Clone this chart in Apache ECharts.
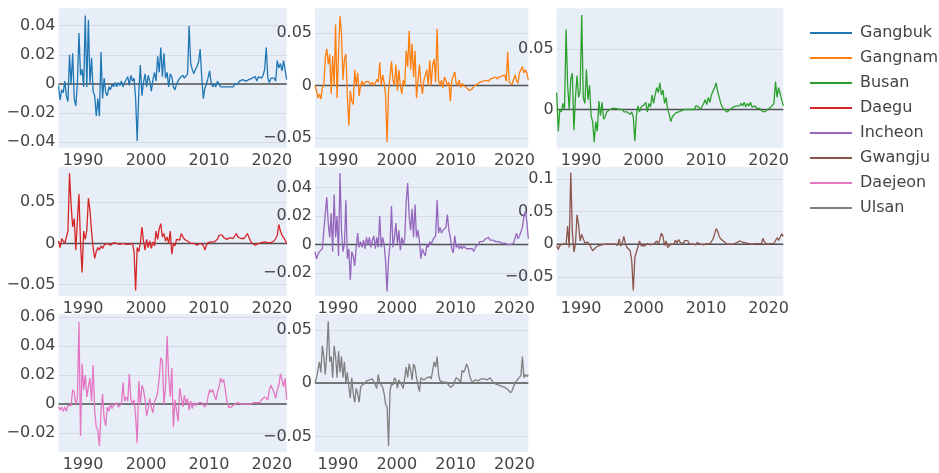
<!DOCTYPE html>
<html><head><meta charset="utf-8">
<script src="https://cdn.jsdelivr.net/npm/echarts@6/dist/echarts.min.js"></script>
<style>html,body{margin:0;padding:0;background:#fff}#c{width:939px;height:473px}</style>
</head><body><div id="c"></div>
<script>
// Quarterly time index (decimal years)
const START_YEAR = 1986.1;
const STEP_YEARS = 0.25;
const X_MIN = 1986.1, X_MAX = 2022.35;

const regions = ['Gangbuk','Gangnam','Busan','Daegu','Incheon','Gwangju','Daejeon','Ulsan'];
const xTickLabels = [1990, 2000, 2010, 2020];

const gangbuk = [
-0.001,-0.011,-0.004,-0.006,0.002,-0.008,-0.012,0.020,0.000,0.021,
-0.010,-0.015,0.000,0.035,0.006,0.010,-0.002,0.047,-0.002,0.044,
0.000,0.018,-0.005,-0.008,-0.022,-0.010,-0.022,0.022,-0.010,0.004,
-0.006,-0.008,-0.002,-0.004,0.000,-0.002,0.001,-0.002,0.001,-0.001,
0.002,-0.002,0.001,0.002,0.005,-0.001,0.006,0.002,0.004,-0.010,
-0.039,-0.006,0.013,-0.008,0.001,0.007,-0.002,0.006,0.002,-0.005,
0.003,0.008,0.002,0.019,0.008,0.025,0.005,0.021,0.004,0.008,
-0.002,0.007,0.005,-0.002,-0.004,0.000,0.002,0.004,0.003,0.006,
0.004,0.005,0.007,0.040,0.014,0.010,0.007,0.010,0.012,0.015,
0.024,0.005,-0.010,-0.003,0.000,0.004,0.009,0.001,-0.002,0.000,
-0.002,0.002,0.000,-0.002,-0.001,-0.002,-0.003,-0.002,-0.003,-0.002,
-0.001,-0.002,0.000,0.001,0.000,0.002,0.001,0.003,0.004,0.002,
0.001,0.003,0.002,0.004,0.003,0.005,0.002,0.005,0.006,0.004,
0.006,0.010,0.025,0.004,0.001,0.004,0.003,0.004,0.002,0.016,
0.011,0.014,0.009,0.016,0.017,0.003];

const gangnam = [
0.000,-0.005,-0.012,-0.008,-0.013,-0.002,0.000,0.026,0.035,0.020,
0.030,-0.008,0.028,0.000,0.058,-0.012,0.030,0.066,0.050,0.005,
0.025,0.030,-0.010,-0.038,-0.005,-0.015,-0.018,0.015,0.000,0.012,
-0.010,0.000,0.004,0.000,0.003,0.002,0.004,0.003,0.001,0.003,
0.000,0.002,0.006,0.003,0.022,0.000,0.010,0.003,-0.010,-0.054,
-0.005,0.008,0.023,0.005,0.000,0.020,-0.005,0.015,0.000,-0.008,
0.005,0.000,0.033,0.018,0.052,0.015,0.040,0.008,0.033,-0.012,
-0.012,0.020,0.002,-0.008,0.005,0.004,0.015,0.000,0.024,0.000,
0.020,0.025,0.003,0.054,0.005,0.000,0.005,-0.002,0.008,0.005,
0.000,0.003,-0.015,0.005,0.004,0.013,0.002,0.000,0.005,-0.002,
0.002,0.000,-0.001,-0.002,-0.003,-0.005,-0.004,-0.003,-0.001,0.000,
0.001,0.002,0.003,0.002,0.004,0.003,0.005,0.006,0.004,0.006,
0.005,0.007,0.006,0.008,0.006,0.008,0.007,0.009,0.008,0.010,
0.004,0.032,0.003,0.002,0.001,0.002,0.010,0.005,0.002,0.012,
0.013,0.018,0.012,0.015,0.012,0.005];

const busan = [
0.014,-0.018,0.000,-0.002,0.005,0.000,0.066,0.020,0.000,0.025,
0.030,-0.017,0.010,0.028,0.010,0.015,0.078,0.010,0.005,0.033,
0.008,0.020,-0.005,-0.010,-0.027,-0.010,-0.018,0.007,-0.005,0.006,
-0.008,-0.006,-0.002,-0.003,0.000,-0.001,0.001,0.000,0.001,0.000,
0.000,-0.001,0.000,-0.002,-0.001,-0.002,-0.003,-0.004,-0.002,-0.006,
-0.026,-0.005,0.003,-0.002,0.002,0.001,0.004,0.006,-0.002,0.005,
0.002,0.012,0.005,0.012,0.018,0.014,0.022,0.012,0.016,0.005,
0.010,0.000,-0.004,-0.010,-0.006,-0.005,-0.003,-0.004,-0.002,-0.003,
-0.001,-0.002,0.000,-0.001,0.000,0.000,0.000,0.001,0.000,0.003,
0.002,0.002,0.000,0.001,0.005,0.008,0.004,0.010,0.006,0.012,
0.015,0.018,0.022,0.015,0.010,0.005,0.002,0.000,-0.001,-0.002,
-0.001,0.000,0.001,0.002,0.002,0.003,0.004,0.003,0.005,0.003,
0.006,0.002,0.005,0.003,0.006,0.002,0.001,0.003,0.001,0.000,
0.001,-0.001,-0.002,-0.002,-0.001,0.000,0.001,0.002,0.003,0.005,
0.023,0.010,0.018,0.013,0.008,0.003];

const daegu = [
0.003,-0.005,0.006,0.005,0.000,0.002,0.015,0.085,0.047,0.020,
0.030,-0.008,0.028,0.060,0.000,-0.035,0.015,0.005,0.016,0.055,
0.040,0.015,-0.005,-0.018,-0.010,-0.005,-0.008,-0.003,-0.006,-0.002,
-0.004,0.000,-0.002,-0.002,0.000,0.001,0.000,0.000,-0.001,-0.001,
0.000,0.000,-0.001,-0.001,0.000,-0.001,0.001,0.000,-0.010,-0.057,
-0.005,-0.010,0.000,0.020,0.003,-0.008,0.005,-0.005,0.003,-0.006,
0.002,-0.003,0.015,0.005,0.018,0.024,0.008,0.012,0.003,0.008,
0.000,0.015,-0.013,0.000,-0.003,0.005,0.003,0.004,0.012,0.010,
0.005,0.004,0.003,0.001,0.000,-0.002,0.000,-0.001,-0.002,-0.001,
0.000,-0.001,-0.002,-0.008,-0.002,0.001,0.003,0.002,0.004,0.002,
0.003,0.005,0.010,0.012,0.010,0.007,0.006,0.005,0.006,0.007,
0.009,0.006,0.005,0.012,0.008,0.010,0.006,0.004,0.006,0.008,
0.012,0.010,0.003,0.000,-0.002,-0.002,-0.001,0.000,0.000,0.001,
0.001,0.002,0.003,0.001,0.002,0.001,0.003,0.003,0.006,0.010,
0.023,0.015,0.010,0.008,0.004,0.000];

const incheon = [
-0.005,-0.010,-0.007,-0.005,-0.006,-0.003,-0.002,0.022,0.033,0.015,
0.005,0.022,-0.005,0.035,0.005,0.020,-0.008,0.050,0.010,-0.005,
0.000,0.031,-0.010,-0.003,-0.025,-0.005,-0.008,-0.015,-0.002,0.008,
-0.002,0.002,-0.002,0.003,-0.003,0.005,0.000,0.005,-0.002,0.003,
0.006,-0.003,0.005,-0.002,0.020,-0.002,0.005,0.000,-0.012,-0.033,
-0.010,0.000,0.027,-0.002,0.005,0.015,0.000,0.010,-0.004,0.005,
0.000,0.004,0.030,0.043,0.020,0.010,0.025,0.005,0.028,0.005,
0.010,0.002,-0.010,-0.003,-0.006,-0.008,0.000,-0.002,0.002,0.000,
0.003,0.002,0.006,0.031,0.008,0.012,0.008,0.010,0.009,0.012,
0.021,0.010,0.005,-0.003,-0.006,0.006,-0.002,0.000,-0.003,-0.001,
-0.003,-0.001,-0.002,-0.003,-0.004,-0.003,-0.004,-0.003,-0.005,-0.002,
-0.001,0.000,0.002,0.003,0.002,0.003,0.004,0.005,0.005,0.003,
0.002,0.003,0.004,0.002,0.001,0.002,0.001,0.001,0.000,0.001,
0.002,0.000,0.001,0.000,0.001,0.001,0.002,0.008,0.004,0.006,
0.005,0.012,0.020,0.023,0.016,0.004];

const gwangju = [
-0.002,-0.008,-0.002,0.000,0.000,0.001,0.000,0.028,-0.005,0.110,
0.020,-0.012,0.000,0.045,0.030,0.005,0.015,0.012,0.002,0.005,
0.003,0.004,-0.005,-0.010,-0.013,-0.005,-0.008,-0.002,-0.004,-0.001,
-0.002,0.000,-0.001,0.000,-0.001,0.000,-0.001,0.000,0.001,-0.002,
0.008,-0.003,0.002,0.012,0.000,-0.005,-0.008,-0.010,-0.025,-0.071,
-0.020,-0.012,-0.004,0.005,-0.002,0.000,-0.003,0.000,0.001,-0.002,
-0.001,-0.004,0.000,0.001,0.005,0.000,0.008,0.017,0.012,-0.002,
0.005,-0.005,-0.003,0.000,-0.002,0.000,0.006,0.002,0.007,0.003,
0.006,0.001,0.006,0.003,0.005,0.000,0.002,0.000,0.002,-0.001,
0.003,0.001,0.000,-0.001,-0.001,0.000,0.001,0.000,0.000,0.003,
0.008,0.015,0.024,0.020,0.012,0.008,0.005,0.004,0.002,0.000,
0.001,0.000,0.001,0.000,0.001,0.002,0.003,0.005,0.006,0.003,
0.005,0.002,0.000,0.001,0.000,0.000,0.000,0.001,0.000,0.001,
0.000,0.001,0.009,0.003,0.000,0.000,0.001,0.001,0.000,0.001,
0.000,0.010,0.006,0.008,0.016,0.012];

const daejeon = [
-0.002,-0.004,-0.002,-0.005,-0.002,-0.005,-0.001,0.000,-0.001,0.010,
0.008,0.000,0.003,0.057,-0.022,0.028,0.010,0.020,0.005,0.012,
0.018,0.002,0.027,-0.005,-0.016,-0.018,-0.029,-0.005,0.007,-0.010,
-0.015,-0.002,-0.005,0.000,-0.003,-0.001,-0.002,0.001,-0.002,-0.001,
0.000,0.015,0.002,0.005,0.002,0.021,0.003,0.000,0.003,-0.008,
-0.027,0.016,0.000,0.013,0.010,0.003,-0.008,-0.003,0.004,-0.002,
-0.006,0.002,0.004,0.008,0.018,0.032,0.030,0.000,0.012,0.047,
0.020,0.005,0.025,-0.016,0.003,0.004,-0.012,0.011,0.005,-0.002,
0.006,0.000,0.004,-0.004,0.002,-0.003,0.001,-0.001,0.000,0.001,
0.000,0.001,0.002,-0.002,0.000,0.005,0.010,0.008,0.010,0.006,
0.003,0.008,0.012,0.018,0.015,0.017,0.010,0.002,-0.002,-0.003,
-0.002,-0.001,0.000,0.000,0.001,0.001,0.000,0.000,0.000,0.000,
0.000,0.000,0.000,0.000,0.001,0.001,0.001,0.002,0.001,0.003,
0.002,0.005,0.006,0.003,0.010,0.013,0.012,0.008,0.004,0.010,
0.013,0.021,0.017,0.012,0.018,0.003];

const ulsan = [
0.000,0.005,0.012,0.020,0.010,0.035,0.025,0.008,0.028,0.058,
0.020,0.025,0.005,0.035,0.025,0.005,0.030,0.010,0.025,0.005,
0.020,0.000,0.010,-0.003,-0.014,0.005,-0.010,-0.018,-0.005,-0.010,
-0.018,-0.004,-0.002,-0.001,0.000,0.002,0.001,0.003,0.002,0.004,
0.001,-0.002,-0.005,0.008,0.000,-0.002,-0.004,-0.010,-0.020,-0.022,
-0.059,-0.008,0.000,-0.002,0.005,0.003,-0.005,0.003,0.002,-0.002,
-0.005,0.005,0.015,0.005,0.018,0.012,0.003,0.018,0.015,0.005,
-0.002,-0.008,0.005,0.005,0.003,0.002,0.005,0.004,0.006,0.004,
0.005,0.020,0.015,0.025,0.008,0.002,0.002,0.001,0.000,0.001,
0.000,-0.002,-0.004,-0.005,-0.002,0.002,0.005,0.004,0.003,0.000,
0.012,0.010,0.013,0.018,0.015,0.008,0.003,0.001,0.002,0.003,
0.003,0.002,0.003,0.004,0.003,0.004,0.003,0.003,0.004,0.005,
0.004,0.001,0.000,-0.001,-0.002,-0.002,-0.003,-0.003,-0.003,-0.004,
-0.005,-0.006,-0.007,-0.009,-0.007,-0.003,0.000,0.002,0.004,0.003,
0.007,0.025,0.005,0.008,0.006,0.008];

const yTickValues = [
  [-0.04,-0.02,0,0.02,0.04],
  [-0.05,0,0.05],
  [0,0.05],
  [-0.05,0,0.05],
  [-0.02,0,0.02,0.04],
  [-0.05,0,0.05,0.1],
  [-0.02,0,0.02,0.04,0.06],
  [-0.05,0,0.05]
];

const seriesValues = [gangbuk, gangnam, busan, daegu, incheon, gwangju, daejeon, ulsan];
const colors = ['#1f77b4','#ff7f0e','#2ca02c','#d62728','#9467bd','#8c564b','#e377c2','#7f7f7f'];

// layout: [left, top, width, height]
const grids = [
  [58.5, 8.3, 228.2, 140], [315, 8.3, 213.3, 140], [556.7, 8.3, 226.6, 140],
  [58.5, 166.7, 228.2, 129.6], [315, 166.7, 213.3, 129.6], [556.7, 166.7, 226.6, 129.6],
  [58.5, 314, 228.2, 139.3], [315, 314, 213.3, 139.3]
];
const yRanges = [
  [-0.0441, 0.0519], [-0.0598, 0.0735], [-0.032, 0.0835],
  [-0.064, 0.093], [-0.0363, 0.0545], [-0.080, 0.119],
  [-0.0331, 0.0623], [-0.0647, 0.0649]
];

const FONT = 'DejaVu Sans';
const option = {
  animation: false,
  backgroundColor: '#ffffff',
  grid: [], xAxis: [], yAxis: [], series: [],
  legend: {
    orient: 'vertical', left: 805, top: 20,
    itemWidth: 42, itemHeight: 2, itemGap: 9, icon: 'rect',
    selectedMode: false,
    data: regions,
    textStyle: { fontSize: 16, fontFamily: FONT, color: '#444', lineHeight: 16, padding: [0,0,0,3] }
  }
};

grids.forEach((g, k) => {
  option.grid.push({ left: g[0], top: g[1], width: g[2], height: g[3], show: true,
    backgroundColor: '#e8eef8', borderWidth: 0 });
  option.xAxis.push({ type: 'value', gridIndex: k, min: X_MIN, max: X_MAX,
    axisLine: { show: false }, axisTick: { show: false, customValues: xTickLabels },
    splitLine: { show: false },
    axisLabel: { customValues: xTickLabels, margin: 5, color: '#444', fontSize: 16, fontFamily: FONT,
      formatter: v => String(v) } });
  option.yAxis.push({ type: 'value', gridIndex: k, min: yRanges[k][0], max: yRanges[k][1],
    axisLine: { show: false }, axisTick: { show: false, customValues: yTickValues[k] },
    splitLine: { show: true, lineStyle: { color: '#d5dbe4', width: 1 } },
    axisLabel: { customValues: yTickValues[k], margin: 3, color: '#444', fontSize: 16, fontFamily: FONT,
      formatter: v => (v < 0 ? '\u2212' : '') + String(Math.abs(v)) } });
  option.series.push({ type: 'line', xAxisIndex: k, yAxisIndex: k, silent: true, z: 1,
    data: [[X_MIN, 0], [X_MAX, 0]], symbol: 'none',
    lineStyle: { color: '#505050', width: 1.5 } });
  option.series.push({ name: regions[k], type: 'line', xAxisIndex: k, yAxisIndex: k, z: 2,
    data: seriesValues[k].map((v, i) => [START_YEAR + i * STEP_YEARS, v]),
    symbol: 'none', itemStyle: { color: colors[k] },
    lineStyle: { color: colors[k], width: 1.3 } });
});

const chart = echarts.init(document.getElementById('c'), null, { renderer: 'canvas' });
chart.setOption(option);
</script>
</body></html>
